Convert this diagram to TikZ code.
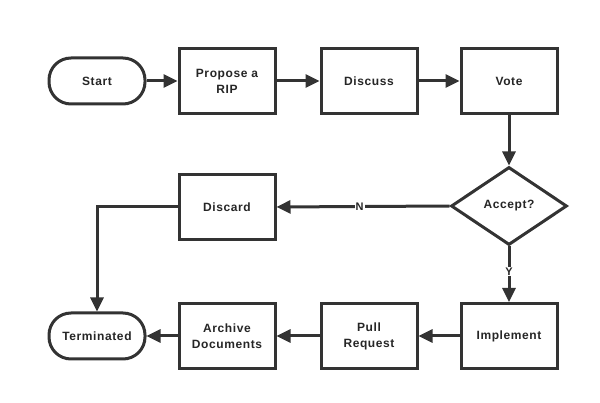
\documentclass[tikz,border=0pt]{standalone}
\usepackage{fontspec}
\setmainfont{Liberation Sans}[LetterSpace=5]
\usetikzlibrary{shapes.geometric,arrows.meta}
\begin{document}
\begin{tikzpicture}[x=1pt,y=-1pt,
  every node/.style={font=\bfseries\fontsize{12}{16}\selectfont, text=black!85, align=center},
  box/.style={draw=black!80, line width=3pt, fill=white, minimum width=96pt, minimum height=65pt, inner sep=0pt},
  term/.style={draw=black!80, line width=3pt, fill=white, rounded corners=22pt, minimum width=96pt, minimum height=46pt, inner sep=0pt},
  dec/.style={draw=black!80, line width=3pt, fill=white, diamond, aspect=1.475, minimum width=116pt, minimum height=78pt, inner sep=0pt},
  conn/.style={draw=black!80, line width=3pt, -{Triangle[length=14pt,width=13pt]}},
  lbl/.style={fill=white, inner sep=1pt, font=\bfseries\fontsize{11}{13}\selectfont}
]
\useasboundingbox (0,0) rectangle (600,403);
\node[term] (start) at (97,81) {Start};
\node[box] (prop) at (227,81) {Propose a\\RIP};
\node[box] (disc) at (369,81) {Discuss};
\node[box] (vote) at (509,81) {Vote};
\node[dec] (acc) at (509,206) {Accept?};
\node[box] (disd) at (227,207) {Discard};
\node[term] (term) at (97,336) {Terminated};
\node[box] (arch) at (227,336) {Archive\\Documents};
\node[box] (pull) at (369,336) {Pull\\Request};
\node[box] (impl) at (509,336) {Implement};

\draw[conn] (start) -- (prop);
\draw[conn] (prop) -- (disc);
\draw[conn] (disc) -- (vote);
\draw[conn] (vote) -- (acc);
\draw[conn] (acc.west) -- node[lbl, pos=0.52] {N} (disd.east);
\draw[conn] (acc.south) -- node[lbl, pos=0.45] {Y} (impl.north);
\draw[conn] (impl) -- (pull);
\draw[conn] (pull) -- (arch);
\draw[conn] (arch) -- (term);
\draw[conn] (disd.west) -| (term.north);
\end{tikzpicture}
\end{document}
